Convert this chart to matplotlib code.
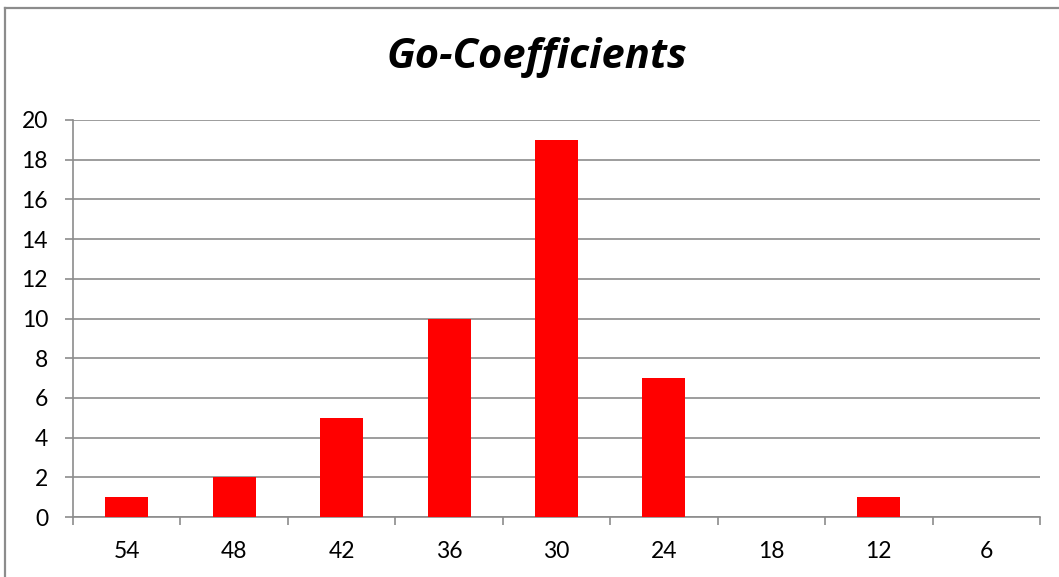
import matplotlib
matplotlib.use("Agg")
import matplotlib.pyplot as plt
from matplotlib.lines import Line2D

categories = ["54", "48", "42", "36", "30", "24", "18", "12", "6"]
counts = [1, 2, 5, 10, 19, 7, 0, 1, 0]
y_ticks = [0, 2, 4, 6, 8, 10, 12, 14, 16, 18, 20]

W, H = 1059, 577
fig = plt.figure(figsize=(W / 100, H / 100), dpi=100)
fig.patch.set_facecolor("white")

# chart frame: left and top edges
frame_c = "#8c8c8c"
fx, fy = 4.5 / W, 1 - 7.5 / H
fig.add_artist(Line2D([fx, fx], [0, fy], transform=fig.transFigure,
                      color=frame_c, linewidth=1.6))
fig.add_artist(Line2D([fx, 1], [fy, fy], transform=fig.transFigure,
                      color=frame_c, linewidth=1.6))

left, right, top, bottom = 73, 1040, 120, 517
ax = fig.add_axes([left / W, 1 - bottom / H, (right - left) / W, (bottom - top) / H])

x = list(range(len(categories)))
ax.bar(x, counts, width=0.4, color="#ff0000", edgecolor="none", zorder=3)

ax.set_xlim(-0.5, len(categories) - 0.5)
ax.set_ylim(0, 20)
ax.set_yticks(y_ticks)
ax.set_yticklabels([str(v) for v in y_ticks])
ax.set_xticks(x)
ax.set_xticklabels(categories)
ax.set_xticks([i - 0.5 for i in range(len(categories) + 1)], minor=True)

grid_c = "#8c8c8c"
ax.yaxis.grid(True, color=grid_c, linewidth=1.2, zorder=0)
for s in ["top", "right"]:
    ax.spines[s].set_visible(False)
for s in ["left", "bottom"]:
    ax.spines[s].set_color(grid_c)
    ax.spines[s].set_linewidth(1.2)

font = "Lato"
ax.tick_params(axis="y", direction="out", length=6, width=1.2, color=grid_c,
               labelsize=16.5, pad=12)
ax.tick_params(axis="x", which="major", length=0, labelsize=16.5, pad=17)
ax.tick_params(axis="x", which="minor", direction="out", length=6, width=1.2,
               color=grid_c)
for lbl in ax.get_xticklabels() + ax.get_yticklabels():
    lbl.set_fontfamily(font)

fig.text(537 / W, 1 - 58 / H, "Go-Coefficients", ha="center", va="center",
         fontsize=30, fontweight="bold", fontstyle="italic", family="Open Sans")

fig.savefig("out.png", dpi=100)
